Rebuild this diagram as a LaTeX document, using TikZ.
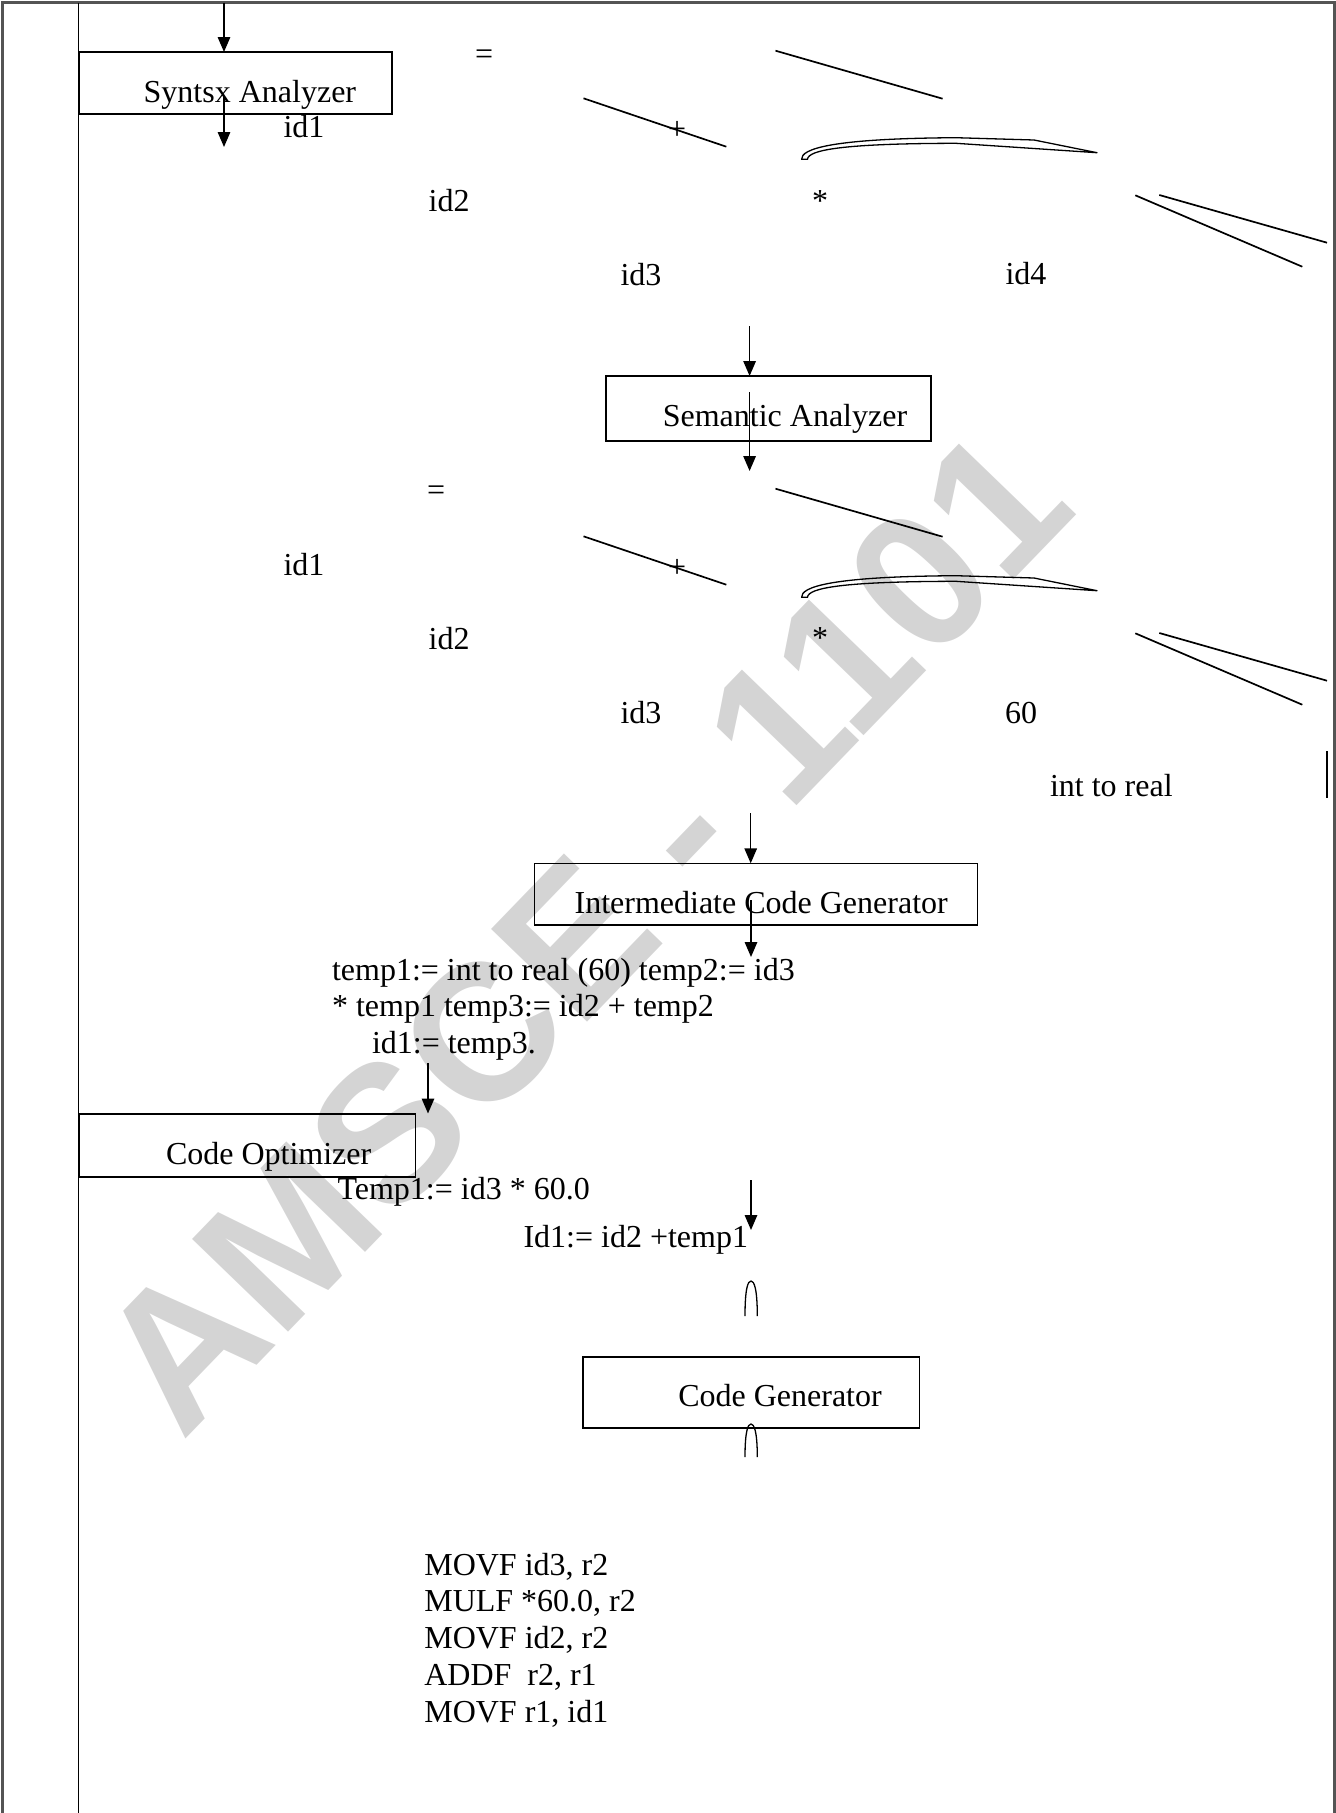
\documentclass[tikz,border=0pt]{standalone}
\usepackage{fontspec}
\setmainfont{Liberation Serif}
\newfontfamily\wmfont{Liberation Sans}
\usetikzlibrary{arrows.meta}

\begin{document}
\begin{tikzpicture}[x=1pt,y=-1pt,
  every node/.style={inner sep=0pt, outer sep=0pt},
  txt/.style={anchor=base west, font=\fontsize{32}{36.8}\selectfont},
  stagebox/.style={draw, line width=1.6pt, rectangle, anchor=north west},
  flow/.style={line width=1.5pt, -{Triangle[length=15pt,width=12.5pt]}},
  treeline/.style={line width=1.7pt},
  thinline/.style={line width=1.3pt, line join=round},
]
\useasboundingbox (0,0) rectangle (1336,1813);

% watermark
\node[anchor=base west, rotate=46, text=black!17,
      font=\wmfont\bfseries\fontsize{194}{194}\selectfont] (wm) at (182,1442) {AMSCE - 1101};

% page frame and margin rule
\draw[line width=3pt, black!67] (2.5,1813) -- (2.5,2.5) -- (1334,2.5) -- (1334,1813);
\draw[line width=1.6pt] (78.5,2.5) -- (78.5,1813);

% phase boxes
\node[stagebox, minimum width=313pt, minimum height=62pt] (syn) at (79,52) {};
\node[stagebox, minimum width=325pt, minimum height=65pt] (sem) at (606,376) {};
\node[stagebox, minimum width=443pt, minimum height=61.7pt] (icg) at (534.4,863.3) {};
\node[stagebox, minimum width=336pt, minimum height=62.7pt] (opt) at (79.3,1114) {};
\node[stagebox, minimum width=336.6pt, minimum height=71pt] (cg) at (582.7,1356.7) {};

\node[txt] (synT) at (143.7,102) {Syntsx Analyzer};
\node[txt] (semT) at (662.8,426) {Semantic Analyzer};
\node[txt] (icgT) at (574.6,913) {Intermediate Code Generator};
\node[txt] (optT) at (166,1164) {Code Optimizer};
\node[txt] (cgT) at (678.3,1406.7) {Code Generator};

% flow arrows
\coordinate (s0) at (224,2.5);
\draw[flow] (s0) -- (s0 |- syn.north);
\coordinate (s1) at (224,97);
\coordinate (s1e) at (224,147);
\draw[flow] (s1) -- (s1e);
\coordinate (s2) at (749.6,326);
\draw[flow] (s2) -- (s2 |- sem.north);
\coordinate (s3) at (749.6,392);
\coordinate (s3e) at (749.6,471);
\draw[flow] (s3) -- (s3e);
\coordinate (s4) at (750.7,813);
\draw[flow] (s4) -- (s4 |- icg.north);
\coordinate (s5) at (751,900);
\coordinate (s5e) at (751,957);
\draw[flow] (s5) -- (s5e);
\coordinate (s6) at (428,1063);
\coordinate (s6e) at (428,1113.5);
\draw[flow] (s6) -- (s6e);
\coordinate (s7) at (751,1180);
\coordinate (s7e) at (751,1230);
\draw[flow] (s7) -- (s7e);

% arches around the code generator
\draw[thinline] (745,1316) .. controls (745,1288) and (748,1281) .. (751,1281)
  .. controls (754,1281) and (757.3,1288) .. (757.3,1316);
\draw[thinline] (745,1457) .. controls (745,1431) and (748,1424) .. (751,1424)
  .. controls (754,1424) and (757.3,1431) .. (757.3,1457);

% syntax tree branches (drawn twice)
\foreach \dy in {0,438} {
  \begin{scope}[shift={(0,\dy)}]
    \draw[treeline] (775.5,50.7) -- (942.6,98.7);
    \draw[treeline] (583.5,98.3) -- (726.3,146.7);
    \draw[thinline] (801.6,159.3) .. controls (801,149) and (830,138.5) .. (956,137.7)
      -- (1034,140) -- (1097,152.7) -- (956,143.3)
      .. controls (842,143.5) and (808,150) .. (807.5,159.3) -- cycle;
    \draw[treeline] (1135.3,195.3) -- (1302.3,266.7);
    \draw[treeline] (1159.3,195) -- (1327,242.7);
  \end{scope}
}

% tree after syntax analysis
\node[txt] (eq1) at (475,64) {=};
\node[txt] (plus1) at (668,139.5) {+};
\node[txt] (id1a) at (283.5,137) {id1};
\node[txt] (id2a) at (428.6,211) {id2};
\node[txt] (mul1) at (812,211.8) {*};
\node[txt] (id3a) at (620.5,285) {id3};
\node[txt] (id4a) at (1005.5,284.5) {id4};

% tree after semantic analysis
\node[txt] (eq2) at (427,500.5) {=};
\node[txt] (plus2) at (668,577.5) {+};
\node[txt] (id1b) at (283.5,575) {id1};
\node[txt] (id2b) at (428.6,649) {id2};
\node[txt] (mul2) at (812,648.5) {*};
\node[txt] (id3b) at (620.5,723) {id3};
\node[txt] (n60) at (1005,723) {60};
\node[txt] (conv) at (1050,796) {int to real};
\draw[line width=2pt] (1327,751) -- (1327,798);

% intermediate code
\node[txt] (ic1) at (332,980) {temp1:= int to real (60) temp2:= id3};
\node[txt] (ic2) at (332,1016.8) {* temp1 temp3:= id2 + temp2};
\node[txt] (ic3) at (372,1053.6) {id1:= temp3.};

% optimized code
\node[txt] (oc1) at (337.5,1199) {Temp1:= id3 * 60.0};
\node[txt] (oc2) at (523.5,1247) {Id1:= id2 +temp1};

% target code
\node[txt] (tc1) at (424.3,1575) {MOVF id3, r2};
\node[txt] (tc2) at (424.3,1611.8) {MULF *60.0, r2};
\node[txt] (tc3) at (424.3,1648.6) {MOVF id2, r2};
\node[txt] (tc4) at (424.3,1685.4) {ADDF\ \ r2, r1};
\node[txt] (tc5) at (424.3,1722.2) {MOVF r1, id1};
\end{tikzpicture}
\end{document}
